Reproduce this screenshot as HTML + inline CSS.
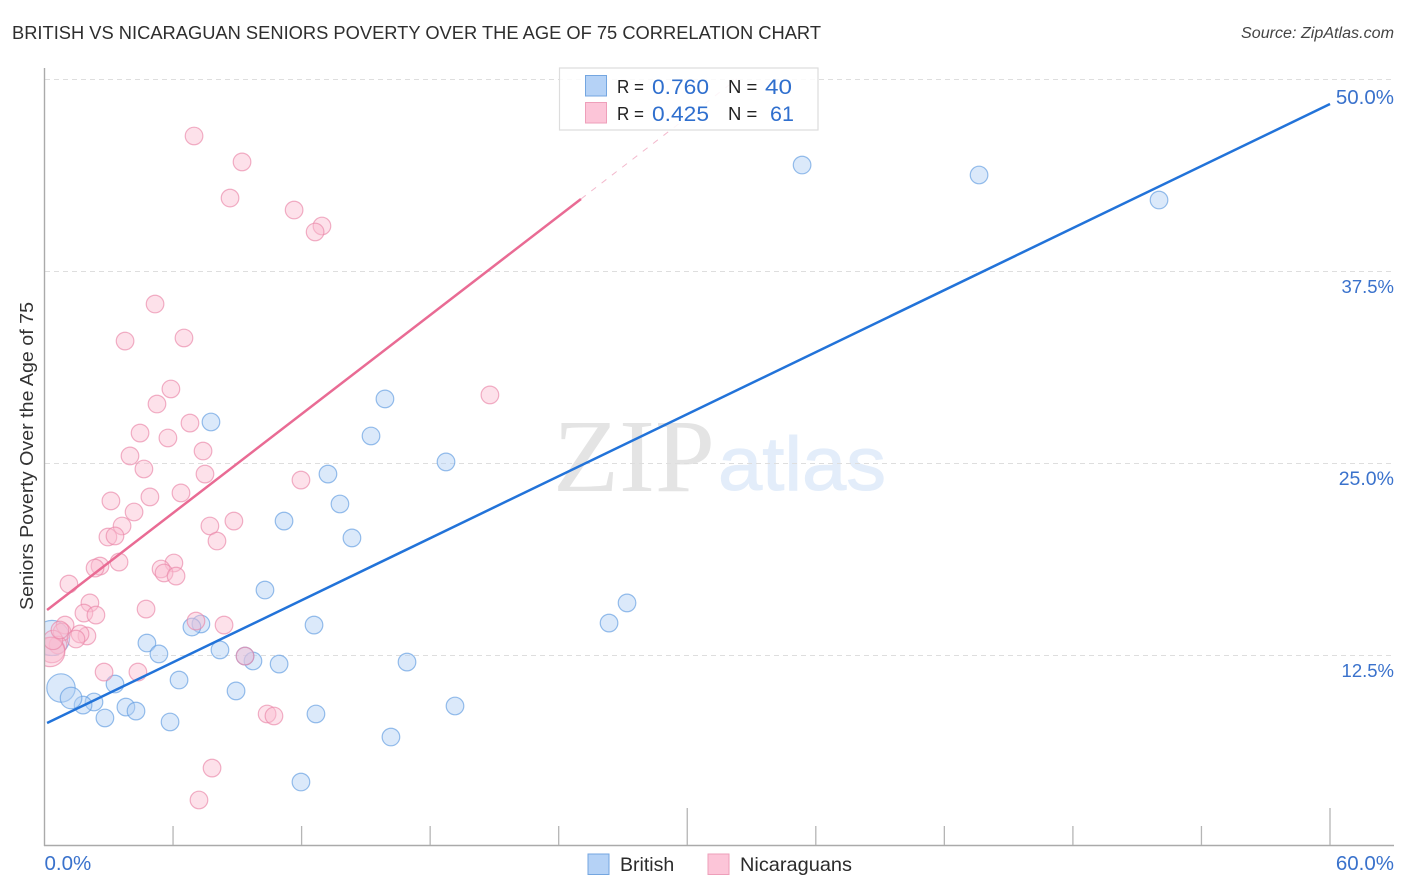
<!DOCTYPE html>
<html lang="en">
<head>
<meta charset="utf-8">
<title>British vs Nicaraguan Seniors Poverty Over the Age of 75 Correlation Chart</title>
<style>
html,body{margin:0;padding:0;background:#fff;width:1406px;height:892px;overflow:hidden}
svg{display:block}
text{font-family:"Liberation Sans",sans-serif}
</style>
</head>
<body>
<svg id="chart" xmlns="http://www.w3.org/2000/svg" width="1406" height="892" viewBox="0 0 1406 892">
  <defs>
    <clipPath id="plot-clip"><rect x="45" y="60" width="1349" height="786"></rect></clipPath>
  </defs>
  <text x="12" y="39" font-size="18.5" fill="#2e2e2e" textLength="809" lengthAdjust="spacingAndGlyphs">BRITISH VS NICARAGUAN SENIORS POVERTY OVER THE AGE OF 75 CORRELATION CHART</text>
  <text x="1241" y="38" font-size="15.5" font-style="italic" fill="#444" textLength="153" lengthAdjust="spacingAndGlyphs">Source: ZipAtlas.com</text>

  <g>
    <text x="553" y="491" font-size="104" fill="#e4e4e4" textLength="162" lengthAdjust="spacingAndGlyphs" style="font-family:'Liberation Serif',serif">ZIP</text>
    <text x="718" y="490" font-size="76" fill="#e3edfa" stroke="#e3edfa" stroke-width="1" textLength="168" lengthAdjust="spacingAndGlyphs">atlas</text>
  </g>

  <g id="grid"></g>
  <g id="points" clip-path="url(#plot-clip)"></g>
  <g id="trends"></g>

  <line x1="44.5" y1="68" x2="44.5" y2="846" stroke="#aaa" stroke-width="1.4"></line>
  <line x1="44" y1="845.5" x2="1394" y2="845.5" stroke="#aaa" stroke-width="1.4"></line>
  <g id="x-ticks"></g>
  <g id="y-labels"></g>
  <g id="x-labels"></g>

  <text transform="translate(33,456) rotate(-90)" font-size="18.5" fill="#333" text-anchor="middle" textLength="308" lengthAdjust="spacingAndGlyphs">Seniors Poverty Over the Age of 75</text>

  <g>
    <rect x="559.5" y="68" width="258.5" height="62" fill="#fff" fill-opacity="0.85" stroke="#ddd" stroke-width="1.2"></rect>
    <rect x="585.5" y="75.5" width="21" height="20.5" fill="#b5d2f6" stroke="#74a6e0" stroke-width="1"></rect>
    <rect x="585.5" y="102.5" width="21" height="20.5" fill="#fcc5d8" stroke="#ee9fba" stroke-width="1"></rect>
    <text x="617" y="93" font-size="18.5" fill="#222" textLength="27" lengthAdjust="spacingAndGlyphs">R =</text>
    <text x="652" y="94" font-size="21.5" fill="#2f6fce" textLength="57" lengthAdjust="spacingAndGlyphs">0.760</text>
    <text x="728" y="93" font-size="18.5" fill="#222">N =</text>
    <text x="765" y="94" font-size="21.5" fill="#2f6fce" textLength="27" lengthAdjust="spacingAndGlyphs">40</text>
    <text x="617" y="120" font-size="18.5" fill="#222" textLength="27" lengthAdjust="spacingAndGlyphs">R =</text>
    <text x="652" y="121" font-size="21.5" fill="#2f6fce" textLength="57" lengthAdjust="spacingAndGlyphs">0.425</text>
    <text x="728" y="120" font-size="18.5" fill="#222">N =</text>
    <text x="770" y="121" font-size="21.5" fill="#2f6fce">61</text>
  </g>

  <g>
    <g>
      <rect x="588" y="854" width="21" height="20.5" fill="#b5d2f6" stroke="#74a6e0" stroke-width="1"></rect>
      <text x="620" y="871" font-size="19.5" fill="#2b2b2b">British</text>
    </g>
    <g>
      <rect x="708" y="854" width="21" height="20.5" fill="#fcc5d8" stroke="#ee9fba" stroke-width="1"></rect>
      <text x="740" y="871" font-size="19.5" fill="#2b2b2b" textLength="112" lengthAdjust="spacingAndGlyphs">Nicaraguans</text>
    </g>
  </g>
</svg>
<script>
const yTickValues = [12.5, 25, 37.5, 50];
const yTickLabels = ["12.5%", "25.0%", "37.5%", "50.0%"];
const xTickValues = [6, 12, 18, 24, 30, 36, 42, 48, 54, 60];
const xEndValues = [0, 60];
const xEndLabels = ["0.0%", "60.0%"];

const britishX = [35.36,43.62,52.02,7.77,15.89,15.24,18.74,13.23,13.79,11.18,14.35,10.29,27.19,26.35,12.58,7.30,6.88,4.78,5.34,8.19,9.73,10.95,16.92,9.36,3.29,6.28,8.94,2.31,1.80,3.80,4.27,2.82,5.86,12.67,19.16,16.17,11.97,0.77,1.24,0.35];
const britishY = [44.40,43.75,42.12,27.67,29.17,26.76,25.07,24.28,22.33,21.22,20.12,16.73,15.89,14.58,14.45,14.52,14.32,13.28,12.57,12.83,12.11,11.91,12.04,12.43,10.61,10.87,10.16,9.44,9.24,9.11,8.85,8.40,8.14,8.66,9.18,7.16,4.23,10.35,9.70,13.61];
const britishWeight = [1,1,1,1,1,1,1,1,1,1,1,1,1,1,1,1,1,1,1,1,1,1,1,1,1,1,1,1,1,1,1,1,1,1,1,1,1,2.6,1.5,4];

const nicaraguanX = [6.98,9.22,8.66,11.65,12.95,12.63,5.16,6.51,3.76,20.79,5.90,5.25,6.79,4.46,5.76,7.40,3.99,4.64,7.49,11.97,6.37,4.92,3.10,4.18,3.62,8.84,7.72,2.96,3.29,8.05,3.48,6.04,5.44,5.58,6.14,2.59,2.36,1.14,4.74,2.12,1.84,2.40,7.07,8.38,0.96,0.82,1.98,1.66,1.47,9.36,2.78,4.36,10.39,10.71,7.82,7.21,0.63,0.35,0.26,0.40,0.72];
const nicaraguanY = [46.29,44.60,42.25,41.47,40.43,40.04,35.35,33.14,32.94,29.43,29.82,28.84,27.60,26.95,26.63,25.78,25.46,24.61,24.28,23.89,23.05,22.79,22.53,21.81,20.90,21.22,20.90,20.18,20.25,19.92,18.55,18.49,18.10,17.84,17.64,18.29,18.16,17.12,15.49,15.89,15.23,15.10,14.71,14.45,14.45,14.00,13.74,13.87,13.54,12.43,11.39,11.39,8.66,8.53,5.14,3.06,13.15,12.83,12.70,13.48,14.13];
const nicaraguanWeight = [1,1,1,1,1,1,1,1,1,1,1,1,1,1,1,1,1,1,1,1,1,1,1,1,1,1,1,1,1,1,1,1,1,1,1,1,1,1,1,1,1,1,1,1,1,1,1,1,1,1,1,1,1,1,1,1,1,2.1,2.8,1.2,1];

const britishTrendX = [0.12, 60];
const britishTrendY = [8.07, 48.37];
const nicaraguanTrendX = [0.12, 25.04];
const nicaraguanTrendY = [15.43, 42.19];
const nicaraguanExtensionX = [25.04, 32.32];
const nicaraguanExtensionY = [42.19, 50];

const NS = "http://www.w3.org/2000/svg";
function xScale(v) { return 44.5 + v * 21.425; }
function yScale(v) { return 847 - v * 15.36; }
function rScale(w) { return 8.8 * Math.sqrt(w); }
function make(tag, attrs, parent) {
  const el = document.createElementNS(NS, tag);
  Object.keys(attrs).forEach(function (k) { el.setAttribute(k, attrs[k]); });
  parent.appendChild(el);
  return el;
}
function yLabelSize(v) { return v === 50 ? 20.5 : (v === 25 ? 19.5 : 18.5); }
function yLabelOffset(v) { return v === 50 ? 25 : 22; }

const gridG = document.getElementById("grid");
const yLabelG = document.getElementById("y-labels");
yTickValues.forEach(function (v, i) {
  const gy = Math.round(yScale(v)) + 0.5;
  const g = make("line", { x1: 45, x2: 1393, y1: gy, y2: gy, stroke: "#dedede", "stroke-width": 1, "stroke-dasharray": "5 4" }, gridG);
  
  
  const t = make("text", { x: 1394, y: yScale(v) + yLabelOffset(v), "font-size": yLabelSize(v), fill: "#3a72cc", "text-anchor": "end" }, yLabelG);
  t.textContent = yTickLabels[i];
  
  
});

const xTickG = document.getElementById("x-ticks");
xTickValues.forEach(function (v) {
  const tall = v === 30 || v === 60;
  const tick = make("line", { x1: xScale(v), x2: xScale(v), y1: tall ? 808 : 826, y2: 845, stroke: "#b5b5b5", "stroke-width": 1.3 }, xTickG);
  
  
});

const xLabelG = document.getElementById("x-labels");
xEndValues.forEach(function (v, i) {
  const first = i === 0;
  const t = make("text", { x: first ? xScale(v) : 1394, y: 870, "font-size": 20.5, fill: "#3a72cc", "text-anchor": first ? "start" : "end" }, xLabelG);
  t.textContent = xEndLabels[i];
  
  
});

const pointsG = document.getElementById("points");
function drawSeries(xs, ys, ws, fill, stroke, seriesName) {
  xs.forEach(function (x, i) {
    const c = make("circle", { cx: xScale(x), cy: yScale(ys[i]), r: rScale(ws[i]), fill: fill, "fill-opacity": 0.45, stroke: stroke, "stroke-opacity": 0.65, "stroke-width": 1.2 }, pointsG);
    
    
  });
}
drawSeries(britishX, britishY, britishWeight, "#b0cff5", "#5f9be0", "british-point");
drawSeries(nicaraguanX, nicaraguanY, nicaraguanWeight, "#fbbcd1", "#ea86a8", "nicaraguan-point");

const trendsG = document.getElementById("trends");
const ext = make("line", { x1: xScale(nicaraguanExtensionX[0]), y1: yScale(nicaraguanExtensionY[0]), x2: xScale(nicaraguanExtensionX[1]), y2: yScale(nicaraguanExtensionY[1]), stroke: "#f3b8cc", "stroke-width": 1, "stroke-dasharray": "6 7" }, trendsG);


const pinkLine = make("line", { x1: xScale(nicaraguanTrendX[0]), y1: yScale(nicaraguanTrendY[0]), x2: xScale(nicaraguanTrendX[1]), y2: yScale(nicaraguanTrendY[1]), stroke: "#e96b94", "stroke-width": 2.5 }, trendsG);


const blueLine = make("line", { x1: xScale(britishTrendX[0]), y1: yScale(britishTrendY[0]), x2: xScale(britishTrendX[1]), y2: yScale(britishTrendY[1]), stroke: "#2273d9", "stroke-width": 2.5 }, trendsG);


</script>
</body>
</html>
